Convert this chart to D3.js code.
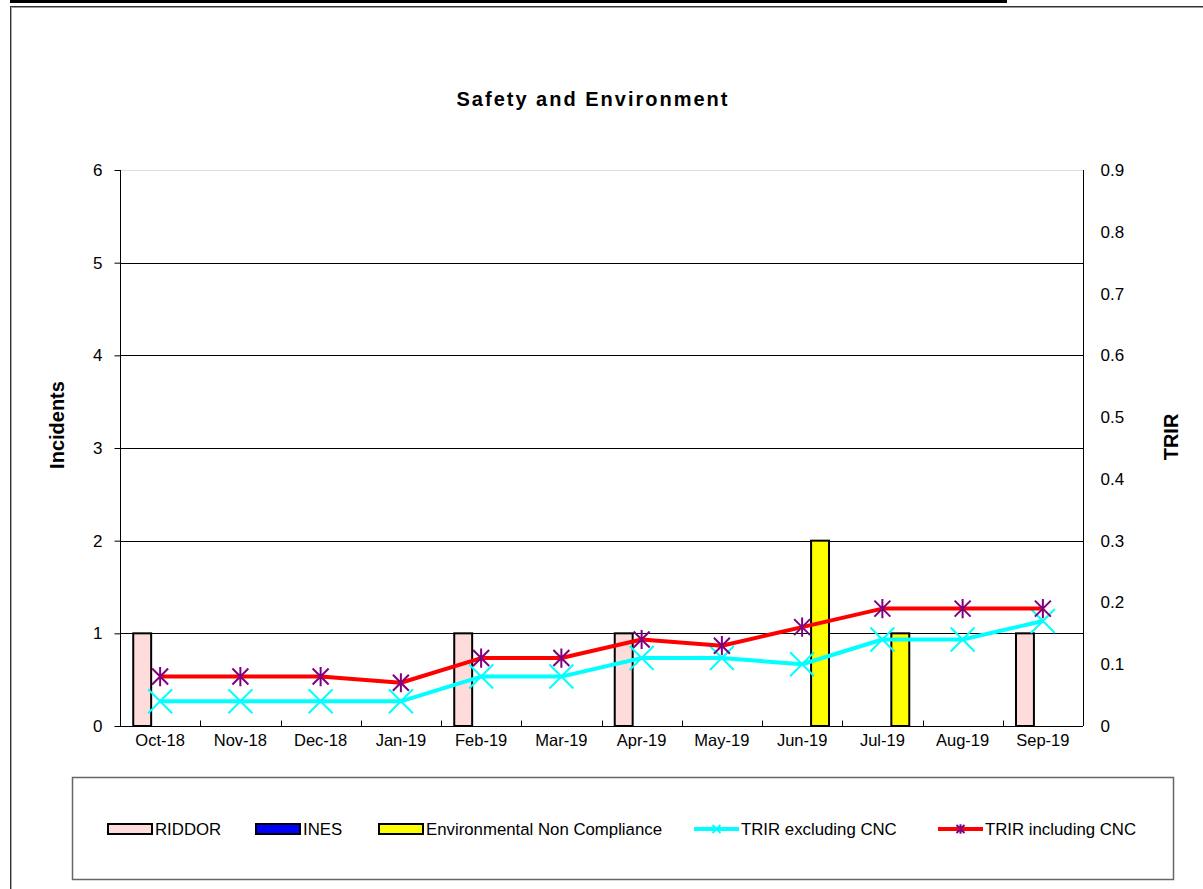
<!DOCTYPE html>
<html>
<head>
<meta charset="utf-8">
<script src="https://cdn.jsdelivr.net/npm/d3@7"></script>
<style>
  body { margin: 0; background: #fff; }
  svg { display: block; font-family: "Liberation Sans", Arial, sans-serif; }
</style>
</head>
<body>
<div id="chart"></div>
<script>
var months = ['Oct-18', 'Nov-18', 'Dec-18', 'Jan-19', 'Feb-19', 'Mar-19', 'Apr-19', 'May-19', 'Jun-19', 'Jul-19', 'Aug-19', 'Sep-19'];
var riddor = [1, 0, 0, 0, 1, 0, 1, 0, 0, 0, 0, 1];
var ines = [0, 0, 0, 0, 0, 0, 0, 0, 0, 0, 0, 0];
var envNonCompliance = [0, 0, 0, 0, 0, 0, 0, 0, 2, 1, 0, 0];
var trirExclCNC = [0.04, 0.04, 0.04, 0.04, 0.08, 0.08, 0.11, 0.11, 0.10, 0.14, 0.14, 0.17];
var trirInclCNC = [0.08, 0.08, 0.08, 0.07, 0.11, 0.11, 0.14, 0.13, 0.16, 0.19, 0.19, 0.19];
var incidentTicks = [0, 1, 2, 3, 4, 5, 6];
var trirTicks = [0, 0.1, 0.2, 0.3, 0.4, 0.5, 0.6, 0.7, 0.8, 0.9];

var barSeries = [
  { name: 'RIDDOR', values: riddor, color: '#ffdcdc' },
  { name: 'INES', values: ines, color: '#0000ff' },
  { name: 'Environmental Non Compliance', values: envNonCompliance, color: '#ffff00' }
];
var lineSeries = [
  { name: 'TRIR excluding CNC', values: trirExclCNC, color: '#00ffff', marker: 'x', markerColor: '#00ffff' },
  { name: 'TRIR including CNC', values: trirInclCNC, color: '#ff0000', marker: 'star', markerColor: '#800080' }
];

var W = 1203, H = 889;
var plot = { left: 120, right: 1083, top: 170, bottom: 726 };
var font = '"Liberation Sans", Arial, sans-serif';

var svg = d3.select('#chart').append('svg').attr('width', W).attr('height', H);

// outer frame pieces
svg.append('rect').attr('x', 10).attr('y', 0).attr('width', 997).attr('height', 3).attr('fill', '#000');
svg.append('line').attr('x1', 10.5).attr('x2', W).attr('y1', 6.5).attr('y2', 6.5).attr('stroke', '#333').attr('stroke-width', 1);
svg.append('line').attr('x1', 10.5).attr('x2', W).attr('y1', 7.5).attr('y2', 7.5).attr('stroke', '#999').attr('stroke-width', 1);
svg.append('line').attr('x1', 10.5).attr('x2', 10.5).attr('y1', 6).attr('y2', H).attr('stroke', '#333').attr('stroke-width', 1);
svg.append('line').attr('x1', 11.5).attr('x2', 11.5).attr('y1', 7).attr('y2', H).attr('stroke', '#aaa').attr('stroke-width', 1);

var x0 = d3.scaleBand().domain(months).range([plot.left, plot.right]).paddingInner(0.33).paddingOuter(0.165);
var xStep = d3.scaleBand().domain(months).range([plot.left, plot.right]);
var x1 = d3.scaleBand().domain(barSeries.map(function(d) { return d.name; })).range([0, x0.bandwidth()]);
var yL = d3.scaleLinear().domain([0, 6]).range([plot.bottom, plot.top]);
var yR = d3.scaleLinear().domain([0, 0.9]).range([plot.bottom, plot.top]);
var cx = function(i) { return xStep(months[i]) + xStep.bandwidth() / 2; };

// gridlines
svg.append('g').selectAll('line').data(incidentTicks.filter(function(t) { return t > 0; })).enter().append('line')
  .attr('x1', plot.left).attr('x2', plot.right)
  .attr('y1', function(d) { return Math.round(yL(d)) + 0.5; })
  .attr('y2', function(d) { return Math.round(yL(d)) + 0.5; })
  .attr('stroke', function(d) { return d === 6 ? '#ddd' : '#000'; }).attr('stroke-width', 1);

// bars
var barG = svg.append('g');
barSeries.forEach(function(s) {
  barG.selectAll(null).data(s.values.map(function(v, i) { return { v: v, m: months[i] }; }).filter(function(d) { return d.v > 0; }))
    .enter().append('rect')
    .attr('x', function(d) { return x0(d.m) + x1(s.name); })
    .attr('y', function(d) { return yL(d.v); })
    .attr('width', x1.bandwidth())
    .attr('height', function(d) { return yL(0) - yL(d.v); })
    .attr('fill', s.color).attr('stroke', '#000').attr('stroke-width', 2);
});

// axes
var leftAxis = d3.axisLeft(yL).tickValues(incidentTicks).tickSize(6).tickPadding(12).tickFormat(d3.format('d'));
var gl = svg.append('g').attr('transform', 'translate(' + (plot.left + 0.5) + ',0)').call(leftAxis);
gl.select('.domain').remove();
gl.append('line').attr('y1', plot.top).attr('y2', plot.bottom).attr('stroke', '#000');
gl.selectAll('text').attr('font-size', 17).attr('fill', '#000').attr('font-family', font);

var rightAxis = d3.axisRight(yR).tickValues(trirTicks).tickSize(0).tickPadding(17).tickFormat(function(d) { return d === 0 ? '0' : d3.format('.1f')(d); });
var gr = svg.append('g').attr('transform', 'translate(' + (plot.right + 0.5) + ',0)').call(rightAxis);
gr.select('.domain').remove();
gr.append('line').attr('y1', plot.top).attr('y2', plot.bottom).attr('stroke', '#000');
gr.selectAll('text').attr('font-size', 17).attr('fill', '#000').attr('font-family', font);

var bottomAxis = d3.axisBottom(xStep).tickSize(0).tickPadding(8);
var gb = svg.append('g').attr('transform', 'translate(0,' + (plot.bottom + 0.5) + ')').call(bottomAxis);
gb.select('.domain').remove();
gb.append('line').attr('x1', plot.left).attr('x2', plot.right).attr('stroke', '#000');
gb.selectAll('text').attr('font-size', 16.5).attr('fill', '#000').attr('font-family', font);
gb.selectAll(null).data(months.slice(1)).enter().append('line')
  .attr('x1', function(d) { return Math.round(xStep(d)) + 0.5; })
  .attr('x2', function(d) { return Math.round(xStep(d)) + 0.5; })
  .attr('y1', 0).attr('y2', -6).attr('stroke', '#000');

// lines
var drawMarker = function(g, type, x, y, size, color) {
  if (type === 'x') {
    g.append('path').attr('d', 'M' + (x - size) + ',' + (y - size) + 'L' + (x + size) + ',' + (y + size) + 'M' + (x - size) + ',' + (y + size) + 'L' + (x + size) + ',' + (y - size))
      .attr('stroke', color).attr('stroke-width', 2).attr('fill', 'none');
  } else {
    g.append('path').attr('d', 'M' + (x - size) + ',' + (y - size) + 'L' + (x + size) + ',' + (y + size) + 'M' + (x - size) + ',' + (y + size) + 'L' + (x + size) + ',' + (y - size) + 'M' + x + ',' + (y - size * 1.2) + 'L' + x + ',' + (y + size * 1.2))
      .attr('stroke', color).attr('stroke-width', 2).attr('fill', 'none');
  }
};
var lineGen = d3.line().x(function(d, i) { return cx(i); }).y(function(d) { return yR(d); });
lineSeries.forEach(function(s) {
  var g = svg.append('g');
  g.append('path').datum(s.values).attr('d', lineGen).attr('fill', 'none').attr('stroke', s.color).attr('stroke-width', 4).attr('stroke-linejoin', 'round');
  s.values.forEach(function(v, i) {
    drawMarker(g, s.marker, cx(i), yR(v), s.marker === 'x' ? 12 : 8, s.markerColor);
  });
});

// titles
svg.append('text').attr('x', 593).attr('y', 106).attr('text-anchor', 'middle').attr('font-size', 20).attr('font-weight', 'bold').attr('letter-spacing', 2).text('Safety and Environment');
svg.append('text').attr('transform', 'translate(64,425) rotate(-90)').attr('text-anchor', 'middle').attr('font-size', 20).attr('font-weight', 'bold').text('Incidents');
svg.append('text').attr('transform', 'translate(1178,437) rotate(-90)').attr('text-anchor', 'middle').attr('font-size', 20).attr('font-weight', 'bold').text('TRIR');

// legend
svg.append('rect').attr('x', 72.5).attr('y', 777.5).attr('width', 1101).attr('height', 102).attr('fill', 'none').attr('stroke', '#666').attr('stroke-width', 1.5);
var legendY = 829;
var legendX = [108, 256, 379, 694, 938];
var legendItems = barSeries.concat(lineSeries);
legendItems.forEach(function(s, i) {
  var lg = svg.append('g');
  var lx = legendX[i];
  if (s.marker) {
    lg.append('line').attr('x1', lx).attr('x2', lx + 45).attr('y1', legendY).attr('y2', legendY).attr('stroke', s.color).attr('stroke-width', 4);
    drawMarker(lg, s.marker, lx + 22.5, legendY, 4, s.markerColor);
  } else {
    lg.append('rect').attr('x', lx).attr('y', legendY - 5).attr('width', 44).attr('height', 10).attr('fill', s.color).attr('stroke', '#000').attr('stroke-width', 2);
  }
  lg.append('text').attr('x', lx + 47).attr('y', legendY).attr('dy', '0.35em').attr('font-size', 16.8).text(s.name);
});
</script>
</body>
</html>
